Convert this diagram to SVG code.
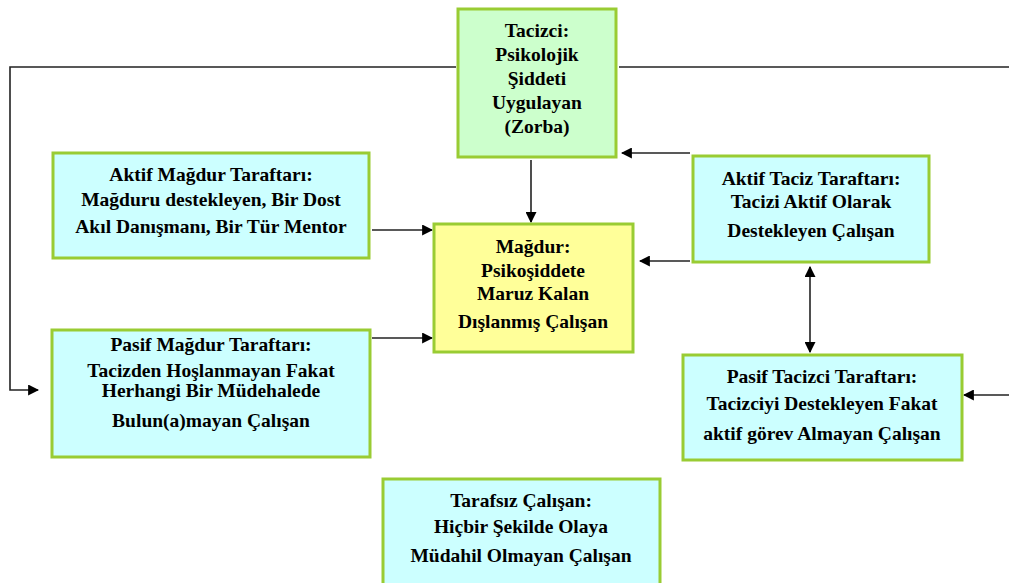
<svg xmlns="http://www.w3.org/2000/svg" width="1009" height="583" viewBox="0 0 1009 583">
<style>
.box{stroke:#9c3;stroke-width:3}
.c{fill:#ccffff}.g{fill:#ccffcc}.y{fill:#ffff99}
.t{font-family:'Liberation Serif',Tinos,'Times New Roman','DejaVu Serif',serif;font-weight:bold;font-size:19.5px;fill:#000;text-anchor:middle}
.ln{stroke:#222;stroke-width:1.6;fill:none}
</style>
<defs>
<marker id="ah" viewBox="0 0 10 10" refX="9" refY="5" markerWidth="11" markerHeight="11" markerUnits="userSpaceOnUse" orient="auto-start-reverse">
<path d="M0,0 L10,5 L0,10 Z" fill="#000"/>
</marker>
</defs>
<rect width="1009" height="583" fill="#fff"/>
<g id="connectors">
<polyline class="ln" points="456,67 10,67 10,390 38,390" marker-end="url(#ah)"/>
<line class="ln" x1="619" y1="67" x2="1009" y2="67"/>
<line class="ln" x1="1009" y1="395" x2="964" y2="395" marker-end="url(#ah)"/>
<line class="ln" x1="690" y1="153" x2="622" y2="153" marker-end="url(#ah)"/>
<line class="ln" x1="531" y1="160" x2="531" y2="222" marker-end="url(#ah)"/>
<line class="ln" x1="372" y1="230" x2="432" y2="230" marker-end="url(#ah)"/>
<line class="ln" x1="372" y1="338" x2="432" y2="338" marker-end="url(#ah)"/>
<line class="ln" x1="690" y1="261" x2="640" y2="261" marker-end="url(#ah)"/>
<line class="ln" x1="810" y1="267" x2="810" y2="352" marker-start="url(#ah)" marker-end="url(#ah)"/>
</g>
<g id="tacizci" class="t">
<rect class="box g" x="458" y="9" width="158" height="148"/>
<text x="537" y="37">Tacizci:</text>
<text x="537" y="61">Psikolojik</text>
<text x="537" y="85">Şiddeti</text>
<text x="537" y="109">Uygulayan</text>
<text x="537" y="133">(Zorba)</text>
</g>
<g id="aktif-magdur" class="t">
<rect class="box c" x="53" y="153" width="316" height="105"/>
<text x="211" y="181">Aktif Mağdur Taraftarı:</text>
<text x="211" y="206">Mağduru destekleyen, Bir Dost</text>
<text x="211" y="233">Akıl Danışmanı, Bir Tür Mentor</text>
</g>
<g id="magdur" class="t">
<rect class="box y" x="434" y="224" width="199" height="128"/>
<text x="533" y="253">Mağdur:</text>
<text x="533" y="277">Psikoşiddete</text>
<text x="533" y="300">Maruz Kalan</text>
<text x="533" y="328">Dışlanmış Çalışan</text>
</g>
<g id="aktif-taciz" class="t">
<rect class="box c" x="693" y="156" width="236" height="106"/>
<text x="811" y="185">Aktif Taciz Taraftarı:</text>
<text x="811" y="208">Tacizi Aktif Olarak</text>
<text x="811" y="237">Destekleyen Çalışan</text>
</g>
<g id="pasif-magdur" class="t">
<rect class="box c" x="52" y="330" width="318" height="127"/>
<text x="211" y="351">Pasif Mağdur Taraftarı:</text>
<text x="211" y="377">Tacizden Hoşlanmayan Fakat</text>
<text x="211" y="397">Herhangi Bir Müdehalede</text>
<text x="211" y="427">Bulun(a)mayan Çalışan</text>
</g>
<g id="pasif-tacizci" class="t">
<rect class="box c" x="683" y="355" width="279" height="105"/>
<text x="822" y="383">Pasif Tacizci Taraftarı:</text>
<text x="822" y="410">Tacizciyi Destekleyen Fakat</text>
<text x="822" y="440">aktif görev Almayan Çalışan</text>
</g>
<g id="tarafsiz" class="t">
<rect class="box c" x="383" y="479" width="277" height="110"/>
<text x="521" y="507">Tarafsız Çalışan:</text>
<text x="521" y="533">Hiçbir Şekilde Olaya</text>
<text x="521" y="562">Müdahil Olmayan Çalışan</text>
</g>
</svg>
